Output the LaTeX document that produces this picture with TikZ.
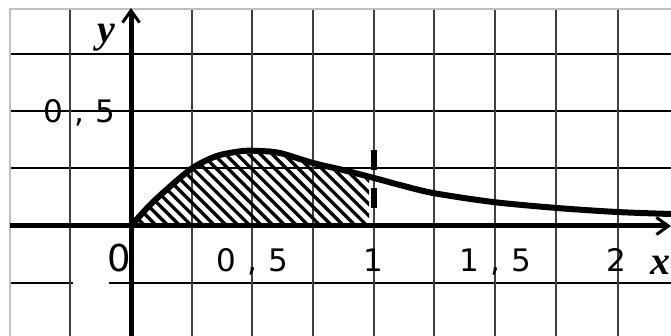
\documentclass[tikz,border=0pt]{standalone}
\usepackage{fontspec}
\setmainfont{Liberation Serif}
\newfontfamily\tickfnt[LetterSpace=36]{DejaVu Sans}
\usetikzlibrary{arrows.meta}
\begin{document}
\begin{tikzpicture}[x=1pt,y=-1pt,
  gridv/.style={black!75,line width=1.3pt},
  gridh/.style={black,line width=1.3pt},
  border/.style={black!25,line width=2pt},
  axisline/.style={line width=5pt,-{Straight Barb[length=12pt,width=17pt,line width=3pt]}},
  ticklab/.style={font=\tickfnt\fontsize{31}{36}\selectfont,anchor=base west,inner sep=0pt},
  axlab/.style={font=\bfseries\itshape\fontsize{40}{46}\selectfont,inner sep=0pt},
  curveline/.style={line width=6pt,line cap=round,line join=round},
  hatchline/.style={line width=3.3pt},
  dashmark/.style={line width=6pt,dash pattern=on 20pt off 18pt}]
\useasboundingbox (0,0) rectangle (671,336);
\fill[white] (0,0) rectangle (671,336);
% grid
\foreach \y in {54,111,168,283} \draw[gridh] (10,\y) -- (671,\y);
\foreach \x in {70,192,252,313,374,434,495,556,618} \draw[gridv] (\x,9) -- (\x,336);
% borders
\draw[border] (10,336) -- (10,9) -- (671,9);
% hatching
\begin{scope}
  \clip (131,130) rectangle (369,226);
  \clip[yshift=-3pt] plot[smooth,tension=0.5] coordinates {(131,226) (153,202) (187,172) (203,162) (220,155) (243,151) (260,151) (280,153) (313,163) (343,170) (374,178) (400,185)} -- (400,240) -- (131,240) -- cycle;
  \foreach \k in {-12,...,24} \draw[hatchline] (131+11.7*\k,130) -- ++(110,110);
\end{scope}
% dashed mark at x=1
\draw[dashmark] (374,150) -- (374,208);
% axes
\coordinate (xs) at (10,226);
\coordinate (xe) at (671,226);
\coordinate (ys) at (131,336);
\coordinate (ye) at (131,8);
\draw[axisline] (xs) -- (xe);
\draw[axisline] (ys) -- (ye);
% curve
\draw[curveline] plot[smooth,tension=0.5] coordinates {(131,226) (153,202) (187,172) (203,162) (220,155) (243,151) (260,151) (280,153) (313,163) (343,170) (374,178) (400,185) (433,193) (493,202) (557,208) (617,212) (671,214)};
% white patch
\fill[white] (73,227.6) rectangle (109,300);
% labels
\node[axlab,anchor=base] (ylab) at (106,43) {y};
\node[axlab,anchor=base west] (xlab) at (650,275) {x};
\node[ticklab] (y05) at (43,123) {0,5};
\node[ticklab,font=\tickfnt\fontsize{37}{42}\selectfont] (o) at (107,272) {0};
\node[ticklab] (x05) at (216,272) {0,5};
\node[ticklab] (x1) at (363,272) {1};
\node[ticklab] (x15) at (459,272) {1,5};
\node[ticklab] (x2) at (606,272) {2};
\end{tikzpicture}
\end{document}
